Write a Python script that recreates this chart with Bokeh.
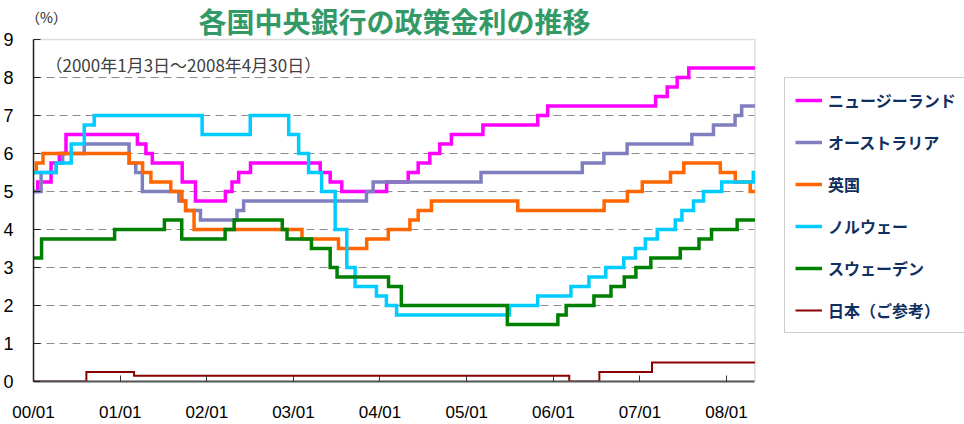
import pandas as pd
from bokeh.plotting import figure
from bokeh.models import (ColumnDataSource, Legend, LegendItem, Label, FixedTicker, Grid,
                          DatetimeTickFormatter, Range1d, BoxAnnotation)
from bokeh.embed import file_html
from bokeh.resources import INLINE

# ---------------- data ----------------
START_DATE = "2000-01-01"
END_DATE = "2008-04-30"
Y_MIN, Y_MAX = 0, 9

nz_dates = ["2000-01-03", "2000-01-19", "2000-03-15", "2000-04-19", "2000-05-17", "2001-03-14",
            "2001-04-19", "2001-05-16", "2001-09-19", "2001-11-14", "2002-03-20", "2002-04-17",
            "2002-05-15", "2002-07-04", "2003-04-24", "2003-06-05", "2003-07-24", "2004-01-29",
            "2004-04-29", "2004-06-10", "2004-07-29", "2004-09-09", "2004-10-28", "2005-03-10",
            "2005-10-27", "2005-12-08", "2007-03-08", "2007-04-26", "2007-06-07", "2007-07-26"]
nz_rates = [5.00, 5.25, 5.75, 6.00, 6.50, 6.25, 6.00, 5.75, 5.25, 4.75, 5.00, 5.25,
            5.50, 5.75, 5.50, 5.25, 5.00, 5.25, 5.50, 5.75, 6.00, 6.25, 6.50, 6.75,
            7.00, 7.25, 7.50, 7.75, 8.00, 8.25]

au_dates = ["2000-01-03", "2000-02-02", "2000-04-05", "2000-05-03", "2000-08-02", "2001-02-07",
            "2001-03-07", "2001-04-04", "2001-09-05", "2001-10-03", "2001-12-05", "2002-05-08",
            "2002-06-05", "2003-11-05", "2003-12-03", "2005-03-02", "2006-05-03", "2006-08-02",
            "2006-11-08", "2007-08-08", "2007-11-07", "2008-02-06", "2008-03-05"]
au_rates = [5.00, 5.50, 5.75, 6.00, 6.25, 5.75, 5.50, 5.00, 4.75, 4.50, 4.25, 4.50,
            4.75, 5.00, 5.25, 5.50, 5.75, 6.00, 6.25, 6.50, 6.75, 7.00, 7.25]

uk_dates = ["2000-01-03", "2000-01-13", "2000-02-10", "2001-02-08", "2001-04-05", "2001-05-10",
            "2001-08-02", "2001-09-18", "2001-10-04", "2001-11-08", "2003-02-06", "2003-07-10",
            "2003-11-06", "2004-02-05", "2004-05-06", "2004-06-10", "2004-08-05", "2005-08-04",
            "2006-08-03", "2006-11-09", "2007-01-11", "2007-05-10", "2007-07-05", "2007-12-06",
            "2008-02-07", "2008-04-10"]
uk_rates = [5.50, 5.75, 6.00, 5.75, 5.50, 5.25, 5.00, 4.75, 4.50, 4.00, 3.75, 3.50,
            3.75, 4.00, 4.25, 4.50, 4.75, 4.50, 4.75, 5.00, 5.25, 5.50, 5.75, 5.50,
            5.25, 5.00]

no_dates = ["2000-01-03", "2000-04-06", "2000-06-08", "2000-08-02", "2000-09-13", "2001-12-12",
            "2002-07-03", "2002-12-12", "2003-01-23", "2003-03-06", "2003-04-30", "2003-06-26",
            "2003-08-14", "2003-09-18", "2003-12-17", "2004-01-28", "2004-03-11", "2005-06-30",
            "2005-10-27", "2006-03-16", "2006-05-31", "2006-08-10", "2006-10-25", "2006-12-13",
            "2007-01-24", "2007-03-15", "2007-05-30", "2007-06-27", "2007-08-15", "2007-09-26",
            "2007-12-12", "2008-04-23"]
no_rates = [5.50, 5.75, 6.25, 6.75, 7.00, 6.50, 7.00, 6.50, 6.00, 5.50, 5.00, 4.00,
            3.00, 2.50, 2.25, 2.00, 1.75, 2.00, 2.25, 2.50, 2.75, 3.00, 3.25, 3.50,
            3.75, 4.00, 4.25, 4.50, 4.75, 5.00, 5.25, 5.50]

se_dates = ["2000-01-03", "2000-02-04", "2000-12-08", "2001-07-06", "2001-09-17", "2002-03-19",
            "2002-04-26", "2002-11-15", "2002-12-05", "2003-03-18", "2003-06-05", "2003-07-04",
            "2004-02-06", "2004-03-31", "2005-06-21", "2006-01-20", "2006-02-24", "2006-06-21",
            "2006-09-01", "2006-10-27", "2006-12-15", "2007-02-16", "2007-06-20", "2007-09-07",
            "2007-10-30", "2008-02-15"]
se_rates = [3.25, 3.75, 4.00, 4.25, 3.75, 4.00, 4.25, 4.00, 3.75, 3.50, 3.00, 2.75,
            2.50, 2.00, 1.50, 1.75, 2.00, 2.25, 2.50, 2.75, 3.00, 3.25, 3.50, 3.75,
            4.00, 4.25]

jp_dates = ["2000-01-03", "2000-08-11", "2001-02-28", "2006-03-09", "2006-07-14", "2007-02-21"]
jp_rates = [0.00, 0.25, 0.15, 0.00, 0.25, 0.50]

series_names = ["ニュージーランド", "オーストラリア", "英国", "ノルウェー", "スウェーデン", "日本（ご参考）"]
series_colors = ["#FF00FF", "#7F7FC0", "#FF6600", "#00CCFF", "#008000", "#8B0000"]
series_widths = [3.5, 3.5, 3.5, 3.5, 3.5, 2.0]
series_dates = [nz_dates, au_dates, uk_dates, no_dates, se_dates, jp_dates]
series_rates = [nz_rates, au_rates, uk_rates, no_rates, se_rates, jp_rates]

year_ticks = ["2000-01-01", "2001-01-01", "2002-01-01", "2003-01-01", "2004-01-01",
              "2005-01-01", "2006-01-01", "2007-01-01", "2008-01-01"]
y_ticks = [0, 1, 2, 3, 4, 5, 6, 7, 8, 9]
grid_ticks = [1, 2, 3, 4, 5, 6, 7, 8]

title_text = "各国中央銀行の政策金利の推移"
subtitle_text = "（2000年1月3日～2008年4月30日）"
unit_text = "（%）"

JP_FONT = "Noto Sans CJK JP"
NUM_FONT = "Liberation Sans"

# ---------------- layout geometry (pixels) ----------------
W, H = 964, 424
BOX_L, BOX_R, BOX_T, BOX_B = 31, 754, 39, 382   # the plot box as drawn
# the frame spans the canvas to the right and top so that title/legend texts are not clipped
frame_w = W - BOX_L
frame_h = BOX_B
start_ms = pd.Timestamp(START_DATE).value / 1e6
end_ms = pd.Timestamp(END_DATE).value / 1e6
x_end = start_ms + (end_ms - start_ms) * frame_w / (BOX_R - BOX_L)
y_end = Y_MAX * frame_h / (BOX_B - BOX_T)

p = figure(width=W, height=H, output_backend="svg", toolbar_location=None,
           x_axis_type="datetime",
           x_range=Range1d(start_ms, x_end), y_range=Range1d(Y_MIN, y_end),
           min_border_left=BOX_L, min_border_right=0, min_border_top=0,
           min_border_bottom=H - BOX_B)
p.title = None
p.background_fill_color = "white"
p.border_fill_color = "white"
p.outline_line_color = None

# grid (dashed, only inside the plot box)
p.xgrid.grid_line_color = None
p.ygrid.ticker = FixedTicker(ticks=grid_ticks)
p.ygrid.grid_line_color = "#8C8C8C"
p.ygrid.grid_line_dash = "8 5"
p.ygrid.grid_line_width = 1
has_cross = "cross_bounds" in Grid.properties()
if has_cross:
    p.ygrid.cross_bounds = (start_ms, end_ms)

# plot box border
p.add_layout(BoxAnnotation(left=start_ms, right=end_ms, bottom=Y_MIN, top=Y_MAX,
                           fill_alpha=0, line_color="#8C8C8C", line_width=1.5,
                           level="underlay"))
if not has_cross:
    p.add_layout(BoxAnnotation(left=end_ms, fill_color="white", fill_alpha=1,
                               line_color=None, level="underlay"))

items = []
for name, color, lw, d, r in zip(series_names, series_colors, series_widths, series_dates, series_rates):
    xs = list(pd.to_datetime(d)) + [pd.Timestamp(END_DATE)]
    ys = list(r) + [r[-1]]
    src = ColumnDataSource(dict(date=xs, rate=ys))
    rend = p.step(x="date", y="rate", source=src, mode="after", line_color=color,
                  line_width=lw, line_join="miter")
    items.append(LegendItem(label=name, renderers=[rend]))

# x axis
xa = p.xaxis[0]
xa.ticker = FixedTicker(ticks=[pd.Timestamp(t).value / 1e6 for t in year_ticks])
xa.bounds = (start_ms, end_ms)
fmt = "%y/%m"
xa.formatter = DatetimeTickFormatter(microseconds=fmt, milliseconds=fmt, seconds=fmt, minsec=fmt,
                                     minutes=fmt, hourmin=fmt, hours=fmt, days=fmt, months=fmt,
                                     years=fmt)
xa.major_label_text_font = NUM_FONT
xa.major_label_text_font_size = "17px"
xa.major_label_text_color = "black"
xa.major_label_standoff = 21
xa.major_tick_in = 6
xa.major_tick_out = 0
xa.minor_tick_line_color = None
xa.major_tick_line_color = "#333333"
xa.axis_line_color = "#555555"
xa.axis_line_width = 2

# y axis
ya = p.yaxis[0]
ya.ticker = FixedTicker(ticks=y_ticks)
ya.bounds = (Y_MIN, Y_MAX)
ya.major_label_text_font = NUM_FONT
ya.major_label_text_font_size = "18px"
ya.major_label_text_color = "black"
ya.major_label_standoff = 20
ya.major_tick_in = 7
ya.major_tick_out = 0
ya.minor_tick_line_color = None
ya.major_tick_line_color = "#222222"
ya.axis_line_color = "#222222"
ya.axis_line_width = 1.5

# legend (screen offsets from the frame's bottom-left corner)
legend = Legend(items=items, location=(782 - BOX_L, BOX_B - 334), orientation="vertical",
                label_text_font=JP_FONT, label_text_font_style="bold",
                label_text_font_size="16px", label_text_color="#0F2F5F",
                label_height=20, glyph_height=20, glyph_width=27, spacing=18,
                padding=10, label_standoff=6, margin=0,
                border_line_color="#9A9A9A", border_line_width=1.5,
                background_fill_color="white", background_fill_alpha=1)
p.add_layout(legend)

# texts (screen offsets from the frame's bottom-left corner)
p.add_layout(Label(x=392 - BOX_L, y=frame_h - 21, x_units="screen", y_units="screen",
                   text=title_text, text_font=JP_FONT, text_font_style="bold",
                   text_font_size="28px", text_color="#339966",
                   text_align="center", text_baseline="middle"))
p.add_layout(Label(x=44 - BOX_L, y=frame_h - 17, x_units="screen", y_units="screen",
                   text=unit_text, text_font=JP_FONT, text_font_size="14px",
                   text_color="#222222", text_align="center", text_baseline="middle"))
p.add_layout(Label(x=43 - BOX_L, y=frame_h - 65, x_units="screen", y_units="screen",
                   text=subtitle_text, text_font=JP_FONT, text_font_size="17px",
                   text_color="#404040", text_align="left", text_baseline="middle"))

open("out.html", "w").write(file_html(p, INLINE))
